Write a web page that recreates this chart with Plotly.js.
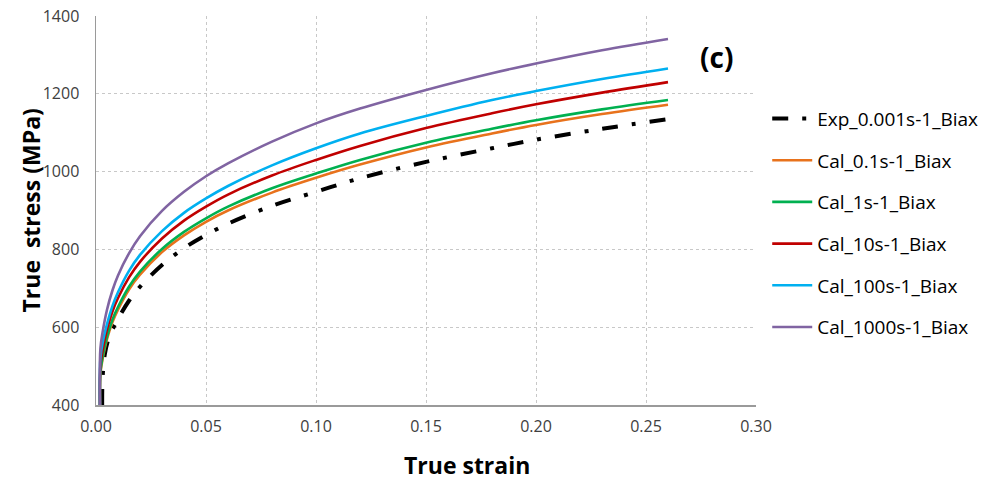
<!DOCTYPE html>
<html>
<head>
<meta charset="utf-8">
<script src="https://cdn.plot.ly/plotly-3.0.1.min.js"></script>
<style>html,body{margin:0;padding:0;background:#fff;}#chart{width:1004px;height:483px;}</style>
</head>
<body>
<div id="chart"></div>
<script>
// Strain grid for calculated curves
const calStrain = [0.0018, 0.002, 0.003, 0.005, 0.0075, 0.01, 0.015, 0.02, 0.03, 0.04, 0.05, 0.06, 0.08, 0.10, 0.12, 0.15, 0.18, 0.20, 0.23, 0.26];
const cal01   = [400, 480, 518, 569, 613, 645, 697, 735, 793, 836, 871, 900, 946, 984, 1018, 1062, 1098, 1120, 1148, 1172];
const cal1    = [400, 485, 523, 575, 620, 652, 704, 743, 801, 845, 880, 910, 957, 995, 1030, 1074, 1110, 1132, 1160, 1184];
const cal10   = [400, 502, 540, 594, 641, 675, 728, 768, 828, 874, 910, 941, 990, 1030, 1066, 1112, 1150, 1173, 1203, 1230];
const cal100  = [400, 520, 560, 608, 655, 690, 745, 786, 847, 894, 931, 963, 1016, 1060, 1098, 1143, 1184, 1207, 1238, 1265];
const cal1000 = [400, 545, 587, 645, 695, 733, 790, 834, 899, 948, 988, 1021, 1077, 1124, 1162, 1210, 1253, 1278, 1312, 1341];

// Experimental curve
const expStrain = [0.0028, 0.003, 0.004, 0.006, 0.01, 0.015, 0.02, 0.03, 0.04, 0.05, 0.06, 0.08, 0.10, 0.12, 0.15, 0.18, 0.20, 0.23, 0.26];
const exp0001  = [400, 470, 530, 575, 621, 668, 704, 760, 803, 837, 866, 912, 948, 983, 1025, 1060, 1082, 1110, 1135];

const names = ['Exp_0.001s-1_Biax','Cal_0.1s-1_Biax','Cal_1s-1_Biax','Cal_10s-1_Biax','Cal_100s-1_Biax','Cal_1000s-1_Biax'];
const colors = ['#000000','#E8721C','#00B050','#C00000','#00B0F0','#8064A2'];

const calSeries = [cal01, cal1, cal10, cal100, cal1000];

const traces = [{
  x: expStrain, y: exp0001, name: names[0], mode: 'lines', type: 'scatter',
  line: {color: colors[0], width: 4, dash: '16px,14px,4px,14px', shape: 'spline'},
  legendgroup: 'g0'
}];
calSeries.forEach((s, i) => {
  traces.push({
    x: calStrain, y: s, name: names[i+1], mode: 'lines', type: 'scatter',
    line: {color: colors[i+1], width: 2.6, shape: 'spline'},
    legendgroup: 'g' + (i+1)
  });
});

const tickFont = {family: 'Open Sans, sans-serif', size: 16, color: '#404040'};
const layout = {
  width: 1004, height: 483,
  margin: {l: 96, r: 248, t: 16, b: 78},
  paper_bgcolor: '#fff', plot_bgcolor: '#fff',
  showlegend: true,
  xaxis: {
    range: [0, 0.3], dtick: 0.05, tick0: 0, tickformat: '.2f',
    showgrid: true, gridcolor: '#c8c8c8', griddash: 'dot', gridwidth: 1,
    showline: true, linecolor: '#9a9a9a', linewidth: 1.5, zeroline: false,
    ticks: '', tickfont: tickFont, ticklabelstandoff: 6
  },
  yaxis: {
    range: [400, 1400], dtick: 200, tick0: 400,
    showgrid: true, gridcolor: '#c8c8c8', griddash: 'dot', gridwidth: 1,
    showline: true, linecolor: '#9a9a9a', linewidth: 1.5, zeroline: false,
    ticks: '', tickfont: tickFont, ticklabelstandoff: 12
  },
  legend: {
    x: 1.017, xanchor: 'left', y: 0.785, yanchor: 'top',
    font: {family: 'Open Sans, sans-serif', size: 19, color: '#000'},
    tracegroupgap: 14, bgcolor: 'rgba(0,0,0,0)', itemwidth: 40
  },
  annotations: [
    {text: '<b>True strain</b>', xref: 'paper', yref: 'paper', x: (467-96)/660, y: -0.155, xanchor: 'center', yanchor: 'middle', showarrow: false,
     font: {family: 'Open Sans, sans-serif', size: 23, color: '#000'}},
    {text: '<b>True  stress (MPa)</b>', xref: 'paper', yref: 'paper', x: -0.1, y: 0.5, xanchor: 'center', yanchor: 'middle', showarrow: false, textangle: -90,
     font: {family: 'Open Sans, sans-serif', size: 23, color: '#000'}},
    {text: '<b>(c)</b>', xref: 'paper', yref: 'paper', x: (716-96)/660, y: (405-57)/389, xanchor: 'center', yanchor: 'middle', showarrow: false,
     font: {family: 'Open Sans, sans-serif', size: 28, color: '#000'}}
  ]
};

Plotly.newPlot('chart', traces, layout, {displayModeBar: false, staticPlot: true});
</script>
</body>
</html>
